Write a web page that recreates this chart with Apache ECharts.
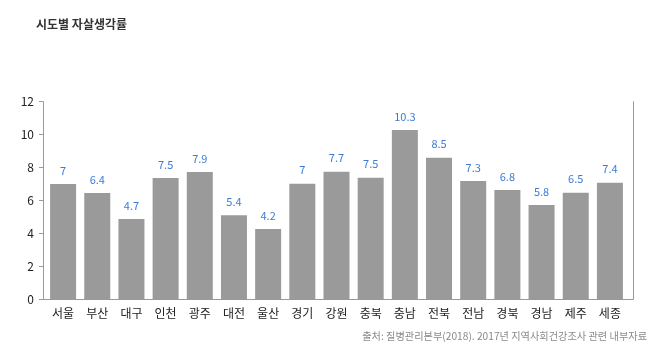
<!DOCTYPE html>
<html><head><meta charset="utf-8">
<script src="https://cdn.jsdelivr.net/npm/echarts@6/dist/echarts.min.js"></script>
<style>html,body{margin:0;padding:0;background:#fff}#c{width:659px;height:356px}</style>
</head><body><div id="c"></div>
<script>
const categories = ['서울','부산','대구','인천','광주','대전','울산','경기','강원','충북','충남','전북','전남','경북','경남','제주','세종'];
const barValues = [7.0, 6.45, 4.88, 7.37, 7.73, 5.1, 4.27, 7.02, 7.75, 7.38, 10.28, 8.6, 7.18, 6.64, 5.73, 6.47, 7.08];
const labelValues = ['7','6.4','4.7','7.5','7.9','5.4','4.2','7','7.7','7.5','10.3','8.5','7.3','6.8','5.8','6.5','7.4'];
const yTicks = [0, 2, 4, 6, 8, 10, 12];
const titleText = '시도별 자살생각률';
const sourceText = '출처: 질병관리본부(2018). 2017년 지역사회건강조사 관련 내부자료';

const FONT = '"Noto Sans CJK KR", "Noto Sans", sans-serif';
const chart = echarts.init(document.getElementById('c'), null, {renderer: 'canvas'});
chart.setOption({
  animation: false,
  textStyle: {fontFamily: FONT},
  title: [
    {text: titleText, left: 36, top: 18, padding: 0, textStyle: {fontSize: 12, fontWeight: 'bold', color: '#333', fontFamily: FONT}},
    {text: sourceText, right: 12, top: 331, padding: 0, textStyle: {fontSize: 10.2, fontWeight: 'normal', color: '#8a8a8a', fontFamily: FONT}}
  ],
  grid: [
    {left: 46, right: 32, top: 101.7, bottom: 56.7},
    {left: 43, right: 26, top: 101.7, bottom: 56.7}
  ],
  xAxis: [
    {type: 'category', gridIndex: 0, data: categories,
     axisLine: {show: false}, axisTick: {show: false},
     axisLabel: {margin: 8, fontSize: 12, color: '#222', fontFamily: FONT}},
    {type: 'value', gridIndex: 1, min: 0, max: 1, show: true,
     axisLine: {show: true, lineStyle: {color: '#9a9a9a', width: 1}},
     axisTick: {show: false}, axisLabel: {show: false}, splitLine: {show: false}}
  ],
  yAxis: [
    {type: 'value', gridIndex: 0, min: 0, max: 12, interval: 2, show: false, splitLine: {show: false}},
    {type: 'value', gridIndex: 1, min: yTicks[0], max: yTicks[yTicks.length - 1], interval: 2, position: 'left',
     axisLine: {show: true, lineStyle: {color: '#9a9a9a', width: 1}},
     axisTick: {show: true, length: 4, lineStyle: {color: '#9a9a9a'}},
     axisLabel: {margin: 9, fontSize: 12, color: '#222', fontFamily: FONT},
     splitLine: {show: false}},
    {type: 'value', gridIndex: 1, min: 0, max: 12, interval: 2, position: 'right',
     axisLine: {show: true, lineStyle: {color: '#9a9a9a', width: 1}},
     axisTick: {show: false}, axisLabel: {show: false}, splitLine: {show: false}}
  ],
  series: [{
    type: 'bar', xAxisIndex: 0, yAxisIndex: 0,
    data: barValues, barWidth: 26,
    itemStyle: {color: '#9a9a9a'},
    label: {show: true, position: 'top', distance: 8,
      formatter: p => labelValues[p.dataIndex],
      fontSize: 11, color: '#3d7bd6', fontFamily: FONT}
  }]
});
</script></body></html>
